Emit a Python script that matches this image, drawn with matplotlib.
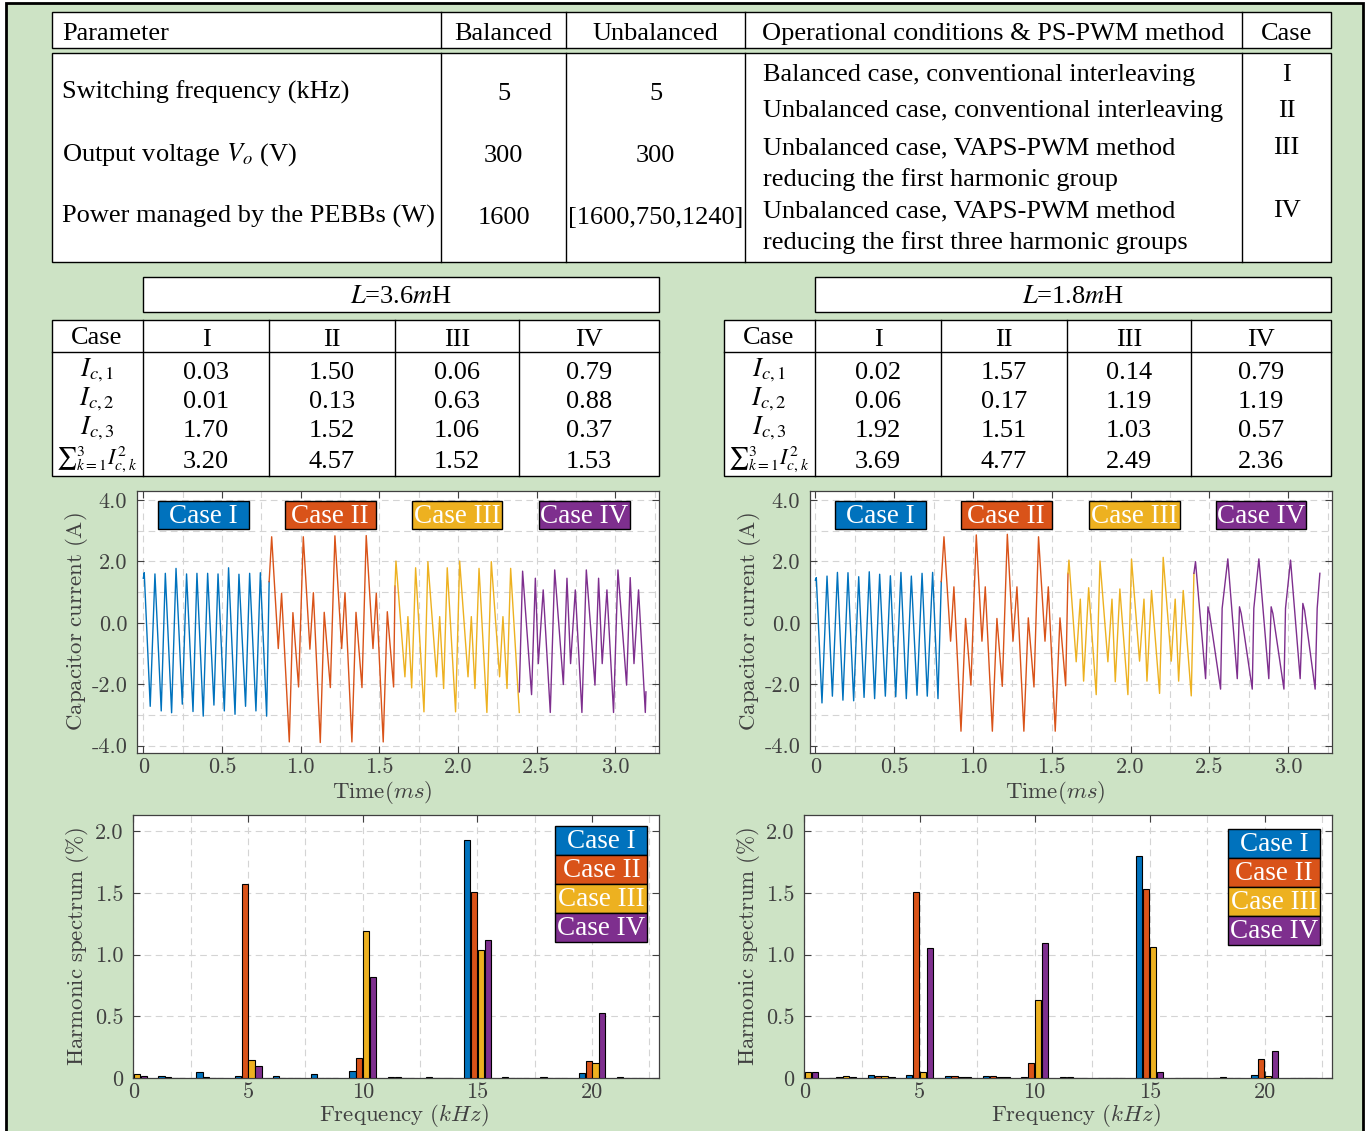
import numpy as np
import matplotlib
matplotlib.use('Agg')
import matplotlib.pyplot as plt
from matplotlib.patches import Rectangle
from matplotlib.lines import Line2D

plt.rcParams['font.family'] = ['Liberation Serif', 'DejaVu Serif']
plt.rcParams['mathtext.fontset'] = 'cm'
plt.rcParams['axes.unicode_minus'] = False

W, H = 1368, 1131
GREEN = '#cde3c5'
GRAY = '#404040'
colors = ['#0072BD', '#D95319', '#EDB120', '#7E2F8E']
case_names = ['Case I', 'Case II', 'Case III', 'Case IV']

# ---------------- table data ----------------
param_names = ['Switching frequency (kHz)', 'Output voltage $V_o$ (V)',
               'Power managed by the PEBBs (W)']
balanced = ['5', '300', '1600']
unbalanced = ['5', '300', '[1600,750,1240]']
conditions = ['Balanced case, conventional interleaving',
              'Unbalanced case, conventional interleaving',
              'Unbalanced case, VAPS-PWM method',
              'reducing the first harmonic group',
              'Unbalanced case, VAPS-PWM method',
              'reducing the first three harmonic groups']
case_ids = ['I', 'II', 'III', 'IV']

row_labels = [r'$I_{c,1}$', r'$I_{c,2}$', r'$I_{c,3}$', r'${\sum}_{k=1}^{3}I_{c,k}^{2}$']
ic_36 = [[0.03, 1.50, 0.06, 0.79],
         [0.01, 0.13, 0.63, 0.88],
         [1.70, 1.52, 1.06, 0.37],
         [3.20, 4.57, 1.52, 1.53]]
ic_18 = [[0.02, 1.57, 0.14, 0.79],
         [0.06, 0.17, 1.19, 1.19],
         [1.92, 1.51, 1.03, 0.57],
         [3.69, 4.77, 2.49, 2.36]]

# ---------------- waveform data, L=3.6mH (time ms, current A) ----------------
t1L = [0.000, 0.006, 0.044, 0.074, 0.114, 0.140, 0.180, 0.208, 0.248, 0.275, 0.316, 0.341, 0.381,
       0.409, 0.449, 0.475, 0.515, 0.542, 0.583, 0.608, 0.650, 0.676, 0.716, 0.744, 0.784, 0.800]
i1L = [1.45, 1.63, -2.72, 1.59, -2.87, 1.61, -2.93, 1.77, -2.65, 1.59, -2.89, 1.61, -3.04,
       1.61, -2.68, 1.59, -2.87, 1.79, -2.98, 1.58, -2.72, 1.61, -2.87, 1.63, -3.04, 1.34]
t2L = [0.800, 0.816, 0.858, 0.879, 0.928, 0.951, 0.987, 1.017, 1.059, 1.081, 1.125, 1.150, 1.189,
       1.218, 1.261, 1.282, 1.326, 1.352, 1.390, 1.417, 1.460, 1.481, 1.525, 1.551, 1.591, 1.600]
i2L = [1.34, 2.80, -0.84, 0.96, -3.88, 0.33, -2.09, 2.80, -0.86, 0.98, -3.90, 0.34, -2.11,
       2.83, -0.84, 0.98, -3.88, 0.34, -2.11, 2.84, -0.84, 0.96, -3.88, 0.36, -2.09, 1.20]
t3L = [1.600, 1.606, 1.663, 1.682, 1.706, 1.731, 1.784, 1.809, 1.864, 1.884, 1.909, 1.932, 1.985,
       2.011, 2.064, 2.085, 2.108, 2.134, 2.184, 2.212, 2.265, 2.286, 2.312, 2.335, 2.390]
i3L = [1.20, 2.01, -1.76, 0.20, -2.12, 1.79, -2.90, 1.99, -1.76, 0.20, -2.14, 1.79, -2.90,
       2.01, -1.76, 0.20, -2.14, 1.77, -2.92, 1.99, -1.76, 0.20, -2.14, 1.77, -2.92]
t4L = [2.390, 2.411, 2.468, 2.492, 2.511, 2.542, 2.587, 2.615, 2.670, 2.693, 2.716, 2.746, 2.788,
       2.816, 2.871, 2.894, 2.917, 2.947, 2.989, 3.017, 3.072, 3.095, 3.119, 3.148, 3.191, 3.195]
i4L = [-2.25, 1.68, -2.34, 1.45, -1.33, 1.07, -2.92, 1.72, -2.01, 1.45, -1.33, 1.07, -2.92,
       1.72, -2.03, 1.45, -1.33, 1.07, -2.92, 1.72, -2.03, 1.47, -1.33, 1.07, -2.92, -2.25]

# ---------------- waveform data, L=1.8mH ----------------
t1R = [0.000, 0.006, 0.042, 0.074, 0.108, 0.140, 0.175, 0.207, 0.243, 0.275, 0.309, 0.342, 0.376,
       0.408, 0.444, 0.476, 0.510, 0.543, 0.577, 0.609, 0.645, 0.677, 0.710, 0.744, 0.778, 0.799]
i1R = [1.39, 1.47, -2.61, 1.52, -2.39, 1.64, -2.52, 1.63, -2.54, 1.50, -2.43, 1.66, -2.47,
       1.58, -2.39, 1.53, -2.41, 1.64, -2.47, 1.52, -2.36, 1.61, -2.39, 1.64, -2.47, 1.34]
t2R = [0.799, 0.816, 0.858, 0.879, 0.924, 0.953, 0.987, 1.021, 1.057, 1.078, 1.123, 1.152, 1.186,
       1.218, 1.254, 1.279, 1.323, 1.351, 1.387, 1.416, 1.457, 1.478, 1.522, 1.552, 1.588, 1.603]
i2R = [1.34, 2.80, -0.60, 1.17, -3.53, 0.14, -2.03, 2.86, -0.60, 1.17, -3.53, 0.14, -2.07,
       2.88, -0.60, 1.17, -3.53, 0.16, -2.09, 2.80, -0.60, 1.17, -3.53, 0.16, -2.05, 1.61]
t3R = [1.603, 1.609, 1.655, 1.681, 1.702, 1.734, 1.782, 1.806, 1.856, 1.882, 1.903, 1.932, 1.983,
       2.006, 2.057, 2.085, 2.104, 2.133, 2.184, 2.207, 2.258, 2.283, 2.305, 2.334, 2.385, 2.402]
i3R = [1.61, 2.04, -1.27, 0.77, -1.90, 1.14, -2.34, 2.01, -1.27, 0.77, -1.92, 1.10, -2.34,
       2.07, -1.25, 0.77, -1.90, 1.05, -2.30, 2.13, -1.25, 0.77, -1.90, 1.05, -2.38, 1.61]
t4R = [2.402, 2.412, 2.476, 2.491, 2.501, 2.571, 2.581, 2.617, 2.677, 2.691, 2.702, 2.772, 2.782,
       2.814, 2.877, 2.892, 2.903, 2.973, 2.983, 3.015, 3.076, 3.093, 3.104, 3.171, 3.184, 3.201]
i4R = [1.61, 1.99, -1.82, 0.52, 0.30, -2.16, 0.47, 2.08, -1.82, 0.52, 0.30, -2.16, 0.47,
       2.08, -1.82, 0.52, 0.30, -2.16, 0.47, 2.04, -1.82, 0.63, 0.41, -2.16, 0.47, 1.61]

# ---------------- harmonic spectrum (%) ----------------
freq = [0, 1.67, 3.33, 5, 6.67, 8.33, 10, 11.67, 13.33, 15, 16.67, 18.33, 20, 21.67]
specL = [
    [0.00, 0.016, 0.046, 0.02, 0.02, 0.03, 0.059, 0.008, 0.005, 1.93, 0.005, 0.008, 0.038, 0.005],
    [0.00, 0.008, 0.005, 1.57, 0.003, 0.003, 0.166, 0.005, 0.003, 1.51, 0.002, 0.003, 0.137, 0.003],
    [0.035, 0.003, 0.003, 0.142, 0.003, 0.003, 1.19, 0.003, 0.003, 1.04, 0.002, 0.003, 0.118, 0.003],
    [0.016, 0.003, 0.003, 0.099, 0.003, 0.003, 0.815, 0.003, 0.003, 1.12, 0.002, 0.003, 0.53, 0.003],
]
specR = [
    [0.00, 0.003, 0.021, 0.021, 0.016, 0.016, 0.01, 0.008, 0.003, 1.80, 0.003, 0.002, 0.021, 0.004],
    [0.00, 0.005, 0.019, 1.51, 0.013, 0.013, 0.123, 0.008, 0.003, 1.53, 0.003, 0.005, 0.15, 0.004],
    [0.048, 0.013, 0.013, 0.048, 0.01, 0.01, 0.635, 0.003, 0.003, 1.065, 0.003, 0.003, 0.019, 0.004],
    [0.048, 0.008, 0.008, 1.055, 0.008, 0.008, 1.095, 0.003, 0.003, 0.046, 0.003, 0.003, 0.217, 0.004],
]

fig = plt.figure(figsize=(13.68, 11.31), dpi=100)
fig.patch.set_facecolor('white')


def fx(x):
    return x / W


def fy(y):
    return 1 - y / H


def frect(x0, y0, x1, y1, fc='white', ec='k', lw=1.0, z=1):
    fig.add_artist(Rectangle((fx(x0), fy(y1)), (x1 - x0) / W, (y1 - y0) / H,
                             transform=fig.transFigure, fc=fc, ec=ec, lw=lw, zorder=z))


def fline(x0, y0, x1, y1, lw=1.0):
    fig.add_artist(Line2D([fx(x0), fx(x1)], [fy(y0), fy(y1)], transform=fig.transFigure,
                          color='k', lw=lw, zorder=2))


def ftext(x, y, s, ha='center', size=19, **kw):
    fig.text(fx(x), fy(y), s, ha=ha, va='baseline', fontsize=size,
             math_fontfamily='stix', zorder=3, **kw)


# green frame
frect(6, 3, 1363, 1140, fc=GREEN, ec='k', lw=2.0, z=0)

# ---------------- top table ----------------
frect(52, 12, 1331, 48)
frect(52, 53, 1331, 262)
for xs in [441, 566, 745, 1242]:
    fline(xs, 12, xs, 48)
    fline(xs, 53, xs, 262)
ftext(62, 40, 'Parameter', ha='left')
ftext(503.5, 40, 'Balanced')
ftext(655.5, 40, 'Unbalanced')
ftext(993.5, 40, 'Operational conditions & PS-PWM method')
ftext(1286.5, 40, 'Case')
for k, yb in enumerate([99, 161, 223]):
    ftext(62, yb, param_names[k], ha='left')
    ftext(503.5, yb + 1, balanced[k])
    ftext(655.5, yb + 1, unbalanced[k])
for k, yb in enumerate([81, 117, 154, 186, 217, 249]):
    ftext(763, yb, conditions[k], ha='left')
for k, yb in enumerate([81, 117, 154, 217]):
    ftext(1286.5, yb, case_ids[k])

# ---------------- small tables ----------------
for off, title, vals in [(0, r'$L$=3.6$m$H', ic_36), (672, r'$L$=1.8$m$H', ic_18)]:
    frect(143 + off, 277, 659 + off, 312)
    ftext(401 + off, 303, title)
    frect(52 + off, 320, 659 + off, 476)
    fline(52 + off, 352, 659 + off, 352)
    seps = [143, 269, 395, 519]
    for xs in seps:
        fline(xs + off, 320, xs + off, 476)
    cx = [206, 332, 457, 589]
    ftext(97 + off, 344, 'Case')
    for j in range(4):
        ftext(cx[j] + off, 346, case_ids[j])
    for r, yb in enumerate([379, 408, 437, 468]):
        fig.text(fx(97 + off), fy(yb - 9), row_labels[r], ha='center', va='center',
                 fontsize=19 if r < 3 else 16, math_fontfamily='stix', zorder=3)
        for j in range(4):
            ftext(cx[j] + off, yb, '%.2f' % vals[r][j])


# ---------------- axes helpers ----------------
def style_axes(ax):
    ax.set_facecolor('white')
    for sp in ax.spines.values():
        sp.set_color(GRAY)
        sp.set_linewidth(0.9)
    ax.tick_params(which='both', direction='in', top=True, right=True, color=GRAY,
                   labelcolor=GRAY, labelsize=16, labelfontfamily='cmr10')
    ax.tick_params(which='major', length=5, width=0.8)
    ax.tick_params(which='minor', length=0)
    ax.grid(True, which='both', color='#d4d4d4', linestyle=(0, (6, 4)), linewidth=0.8)
    ax.set_axisbelow(True)


def case_box(ax, xc, yc, w, h, name, color):
    ax.add_patch(Rectangle((xc - w / 2, yc - h / 2), w, h, transform=ax.transAxes,
                           fc=color, ec='k', lw=1.0, zorder=5, clip_on=False))
    ax.text(xc, yc - 0.004, name, transform=ax.transAxes, ha='center', va='center',
            color='white', fontsize=19.5, zorder=6)


waves = [
    ([t1L, t2L, t3L, t4L], [i1L, i2L, i3L, i4L], 137, -0.040, [0.127, 0.370, 0.613, 0.857]),
    ([t1R, t2R, t3R, t4R], [i1R, i2R, i3R, i4R], 810, -0.034, [0.135, 0.376, 0.621, 0.864]),
]
for ts, cs, x0, xmin, boxx in waves:
    ax = fig.add_axes([fx(x0), fy(753), 522 / W, 262 / H])
    style_axes(ax)
    for j in range(4):
        ax.plot(ts[j], cs[j], color=colors[j], lw=1.0, zorder=3)
    ax.set_xlim(xmin, 3.278)
    ax.set_ylim(-4.24, 4.29)
    ax.set_xticks([0, 0.5, 1.0, 1.5, 2.0, 2.5, 3.0], ['0', '0.5', '1.0', '1.5', '2.0', '2.5', '3.0'])
    ax.set_yticks([-4, -2, 0, 2, 4], ['-4.0', '-2.0', '0.0', '2.0', '4.0'])
    ax.set_xticks(np.arange(0.25, 3.3, 0.5), minor=True)
    ax.set_yticks([-3, -1, 1, 3], minor=True)
    ax.tick_params(axis='y', pad=7)
    ax.tick_params(axis='x', pad=3)
    ax.set_ylabel(r'$\mathrm{Capacitor\ current\ (A)}$', fontsize=16.5, color=GRAY)
    ax.yaxis.set_label_coords(-0.09, 0.5)
    ax.set_xlabel(r'$\mathrm{Time}(ms)$', fontsize=16.5, color=GRAY)
    ax.xaxis.set_label_coords(0.47, -0.098)
    for j in range(4):
        case_box(ax, boxx[j], 0.908, 0.174, 0.107, case_names[j], colors[j])

bars = [(specL, 133, 526, 0.803, 0.958), (specR, 804, 528, 0.803, 0.947)]
fr = np.array(freq)
for spec, x0, wpx, lx, ly in bars:
    ax = fig.add_axes([fx(x0), fy(1078), wpx / W, 263 / H])
    style_axes(ax)
    for j in range(4):
        ax.bar(fr + (j - 1.5) * 0.3, spec[j], width=0.27, color=colors[j],
               edgecolor='k', linewidth=0.8, zorder=3)
    ax.set_xlim(-0.02, 22.92)
    ax.set_ylim(0, 2.13)
    ax.set_xticks([0, 5, 10, 15, 20], ['0', '5', '10', '15', '20'])
    ax.set_yticks([0, 0.5, 1.0, 1.5, 2.0], ['0', '0.5', '1.0', '1.5', '2.0'])
    ax.set_xticks([2.5, 7.5, 12.5, 17.5, 22.5], minor=True)
    ax.tick_params(axis='y', pad=7)
    ax.tick_params(axis='x', pad=3)
    ax.set_ylabel(r'$\mathrm{Harmonic\ spectrum\ (\%)}$', fontsize=16.5, color=GRAY)
    ax.yaxis.set_label_coords(-0.08, 0.5)
    ax.set_xlabel(r'$\mathrm{Frequency}\ (kHz)$', fontsize=16.5, color=GRAY)
    ax.xaxis.set_label_coords(0.515, -0.092)
    bw, bh = 0.175, 0.11
    for j in range(4):
        yc = ly - bh * (j + 0.5)
        case_box(ax, lx + bw / 2, yc, bw, bh, case_names[j], colors[j])

fig.savefig('out.png', dpi=100)
